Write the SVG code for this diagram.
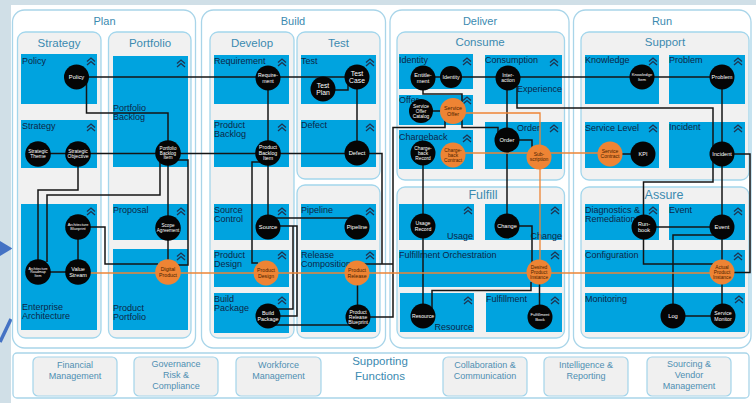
<svg xmlns="http://www.w3.org/2000/svg" xmlns:xlink="http://www.w3.org/1999/xlink" width="756" height="403" viewBox="0 0 756 403">
<style>
.ttl{font-family:"Liberation Sans",Arial,sans-serif;fill:#3b8ab0;text-anchor:middle}
.outer{fill:#fff;stroke:#a9d5e9;stroke-width:1.3}
.col{fill:#f1f1f1;stroke:#a3d6ec;stroke-width:1.3}
.box{fill:#00a3df}
.lbl{font-family:"Liberation Sans",Arial,sans-serif;font-size:9px;fill:#0c2747}
.r{text-anchor:end}
.ch{fill:none;stroke:#1e3350;stroke-width:1.3}
.nd text{font-family:"Liberation Sans",Arial,sans-serif;text-anchor:middle}
.k circle{fill:#050505}
.k text{fill:#fff}
.o circle{fill:#ee8434}
.o text{fill:#4a2200}
.w{fill:none;stroke:#151515;stroke-width:1.5}
.or{fill:none;stroke:#ee8434;stroke-width:1.3}
.sb{fill:#f0f0f0;stroke:#a3d4ea;stroke-width:1.2}
.st{font-family:"Liberation Sans",Arial,sans-serif;font-size:9px;fill:#4f8fb2;text-anchor:middle}
</style>
<defs>
<path id="chev" class="ch" d="M-4,0.5 L0,-3 L4,0.5 M-4,4 L0,0.5 L4,4"/>
</defs>
<!-- background -->
<rect x="0" y="0" width="756" height="403" fill="#d0dfe7"/>
<rect x="11" y="5" width="745" height="398" fill="#fff"/>
<polygon points="0,241 12.5,248.5 0,256" fill="#4472c4"/>
<line x1="0" y1="342" x2="11" y2="319" stroke="#4472c4" stroke-width="3.5"/>

<!-- outer containers -->
<rect class="outer" x="12.5" y="10" width="183" height="338" rx="12"/>
<rect class="outer" x="201.5" y="10" width="184" height="338" rx="12"/>
<rect class="outer" x="390" y="10" width="179" height="338" rx="12"/>
<rect class="outer" x="573.5" y="10" width="177.5" height="338" rx="12"/>
<text class="ttl" x="104.5" y="25" font-size="11">Plan</text>
<text class="ttl" x="293" y="24.5" font-size="11">Build</text>
<text class="ttl" x="480" y="24.5" font-size="11">Deliver</text>
<text class="ttl" x="662" y="24.5" font-size="11">Run</text>

<!-- column containers -->
<rect class="col" x="17.5" y="32" width="83.5" height="306" rx="8"/>
<rect class="col" x="108.5" y="32" width="82.5" height="306" rx="8"/>
<rect class="col" x="210" y="32" width="84" height="306" rx="8"/>
<rect class="col" x="297" y="32" width="83" height="147" rx="8"/>
<rect class="col" x="297" y="185" width="83" height="153" rx="8"/>
<rect class="col" x="397" y="32" width="167.5" height="148" rx="8"/>
<rect class="col" x="397" y="187" width="167.5" height="151" rx="8"/>
<rect class="col" x="581" y="32" width="168" height="148" rx="8"/>
<rect class="col" x="581" y="187" width="168" height="151" rx="8"/>
<text class="ttl" x="59" y="46.5" font-size="11.5">Strategy</text>
<text class="ttl" x="150" y="46.5" font-size="11.5">Portfolio</text>
<text class="ttl" x="252" y="46.5" font-size="11.5">Develop</text>
<text class="ttl" x="338.5" y="46.5" font-size="11.5">Test</text>
<text class="ttl" x="480" y="45.5" font-size="11.5">Consume</text>
<text class="ttl" x="483" y="199" font-size="12.5">Fulfill</text>
<text class="ttl" x="665" y="45.5" font-size="11.5">Support</text>
<text class="ttl" x="664" y="199" font-size="12.5">Assure</text>

<!-- blue functional boxes -->
<g id="boxes">
<rect class="box" x="21" y="54" width="76" height="50"/>
<rect class="box" x="21" y="120" width="76" height="48"/>
<rect class="box" x="21" y="204" width="76" height="126"/>
<rect class="box" x="113" y="56" width="75" height="111"/>
<rect class="box" x="113" y="204" width="75" height="36"/>
<rect class="box" x="113" y="249" width="75" height="81"/>
<rect class="box" x="214" y="55" width="75" height="49"/>
<rect class="box" x="214" y="120" width="75" height="47"/>
<rect class="box" x="301" y="55" width="75" height="49"/>
<rect class="box" x="301" y="120" width="75" height="47"/>
<rect class="box" x="214" y="204" width="75" height="36"/>
<rect class="box" x="214" y="250" width="75" height="37"/>
<rect class="box" x="214" y="293" width="75" height="40"/>
<rect class="box" x="301" y="204" width="75" height="36"/>
<rect class="box" x="301" y="250" width="75" height="82"/>
<rect class="box" x="399" y="54" width="74" height="35"/>
<rect class="box" x="399" y="95" width="74" height="30"/>
<rect class="box" x="399" y="130" width="74" height="39"/>
<rect class="box" x="485" y="55" width="77" height="49"/>
<rect class="box" x="485" y="122" width="77" height="47"/>
<rect class="box" x="399" y="204" width="75" height="36"/>
<rect class="box" x="485" y="204" width="77" height="36"/>
<rect class="box" x="399" y="250" width="163" height="37"/>
<rect class="box" x="400" y="293" width="74" height="39"/>
<rect class="box" x="486" y="293" width="76" height="39"/>
<rect class="box" x="585" y="55" width="74" height="49"/>
<rect class="box" x="669" y="55" width="76" height="49"/>
<rect class="box" x="585" y="122" width="74" height="46"/>
<rect class="box" x="669" y="122" width="76" height="46"/>
<rect class="box" x="585" y="204" width="74" height="36"/>
<rect class="box" x="669" y="204" width="76" height="36"/>
<rect class="box" x="585" y="250" width="160" height="37"/>
<rect class="box" x="585" y="293" width="160" height="39"/>
</g>

<!-- box labels -->
<g id="box-labels">
<text class="lbl" x="22" y="63.5">Policy</text>
<text class="lbl" x="22" y="128.5">Strategy</text>
<text class="lbl" x="22" y="309.5">Enterprise<tspan x="22" y="318.5">Architecture</tspan></text>
<text class="lbl" x="113" y="110.5">Portfolio<tspan x="113" y="119.5">Backlog</tspan></text>
<text class="lbl" x="113" y="212.5">Proposal</text>
<text class="lbl" x="113" y="310.5">Product<tspan x="113" y="320">Portfolio</tspan></text>
<text class="lbl" x="214" y="64">Requirement</text>
<text class="lbl" x="301" y="64">Test</text>
<text class="lbl" x="214" y="128">Product<tspan x="214" y="137">Backlog</tspan></text>
<text class="lbl" x="301" y="128">Defect</text>
<text class="lbl" x="214" y="212.5">Source<tspan x="214" y="221.5">Control</tspan></text>
<text class="lbl" x="301" y="212.5">Pipeline</text>
<text class="lbl" x="214" y="258">Product<tspan x="214" y="267">Design</tspan></text>
<text class="lbl" x="301" y="258">Release<tspan x="301" y="267">Composition</tspan></text>
<text class="lbl" x="214" y="301.5">Build<tspan x="214" y="310.5">Package</tspan></text>
<text class="lbl" x="399" y="63">Identity</text>
<text class="lbl" x="485" y="63">Consumption</text>
<text class="lbl r" x="562" y="91.5">Experience</text>
<text class="lbl" x="399" y="103">Offer</text>
<text class="lbl" x="399" y="139.5">Chargeback</text>
<text class="lbl" x="517" y="131">Order</text>
<text class="lbl r" x="473" y="238.5">Usage</text>
<text class="lbl r" x="562" y="238.5">Change</text>
<text class="lbl" x="399" y="258">Fulfillment Orchestration</text>
<text class="lbl r" x="473" y="330">Resource</text>
<text class="lbl" x="486" y="301.5">Fulfillment</text>
<text class="lbl" x="585" y="63">Knowledge</text>
<text class="lbl" x="669" y="63">Problem</text>
<text class="lbl" x="585" y="131">Service Level</text>
<text class="lbl" x="669" y="130">Incident</text>
<text class="lbl" x="585" y="213">Diagnostics &amp;<tspan x="585" y="222">Remediation</tspan></text>
<text class="lbl" x="669" y="212.5">Event</text>
<text class="lbl" x="585" y="258">Configuration</text>
<text class="lbl" x="585" y="301.5">Monitoring</text>
</g>

<!-- chevrons -->
<g id="chevrons">
<use href="#chev" x="91" y="61"/><use href="#chev" x="91" y="127"/><use href="#chev" x="91" y="211"/>
<use href="#chev" x="181" y="63"/><use href="#chev" x="181" y="211"/><use href="#chev" x="181" y="256"/>
<use href="#chev" x="282" y="62"/><use href="#chev" x="370" y="62"/><use href="#chev" x="282" y="127"/>
<use href="#chev" x="370" y="127"/><use href="#chev" x="282" y="211"/><use href="#chev" x="370" y="211"/>
<use href="#chev" x="282" y="255"/><use href="#chev" x="370" y="255"/><use href="#chev" x="282" y="300"/>
<use href="#chev" x="467" y="61"/><use href="#chev" x="554" y="62"/><use href="#chev" x="467" y="100"/>
<use href="#chev" x="467" y="138"/><use href="#chev" x="554" y="128"/><use href="#chev" x="468" y="210"/>
<use href="#chev" x="555" y="210"/><use href="#chev" x="555" y="255"/><use href="#chev" x="468" y="300"/>
<use href="#chev" x="555" y="300"/><use href="#chev" x="653" y="61"/><use href="#chev" x="738" y="61"/>
<use href="#chev" x="653" y="128"/><use href="#chev" x="738" y="128"/><use href="#chev" x="653" y="210"/>
<use href="#chev" x="738" y="211"/><use href="#chev" x="738" y="256"/><use href="#chev" x="739" y="299"/>
</g>

<!-- connectors -->
<g id="connectors">
<path class="w" d="M76.5,77 H357"/>
<path class="w" d="M334,90 H348 V82"/>
<path class="w" d="M86.5,80 V113 H168 V153"/>
<path class="w" d="M38,153.5 H382 V264"/>
<path class="w" d="M360,264 H393"/>
<path class="w" d="M268,78 V227"/>
<path class="w" d="M357,77 V153"/>
<path class="w" d="M262,162 H252 V263 H258"/>
<path class="w" d="M272,218 H352"/>
<path class="w" d="M275,226 H297 V316 H275"/>
<path class="w" d="M293,226 V309 H275"/>
<path class="w" d="M270,325 H352"/>
<path class="w" d="M357.5,273 V317"/>
<path class="w" d="M358,317 H393 V127.5 H445 V118"/>
<path class="w" d="M462,119 V127.5 H498 V134"/>
<path class="w" d="M423,78 V94 H462 V102"/>
<path class="w" d="M423,77 H722"/>
<path class="w" d="M421,111 H453"/>
<path class="w" d="M507,78 V226"/>
<path class="w" d="M517,86 V108 H713 V182 H643.5 V227"/>
<path class="w" d="M507,140 H532 V148"/>
<path class="w" d="M507,226 H532 V263"/>
<path class="w" d="M531,282 V290.5 H432 V310"/>
<path class="w" d="M539.5,272 V317"/>
<path class="w" d="M423,153 V316"/>
<path class="w" d="M722,77 V316"/>
<path class="w" d="M722,154 H750 V272.5 H733"/>
<path class="w" d="M644,227 H722"/>
<path class="w" d="M643.5,238 V264 H713"/>
<path class="w" d="M716,235 H673 V316"/>
<path class="w" d="M673,316 H723"/>
<path class="w" d="M610,154 H643"/>
<path class="w" d="M78,154 V190 H38 V272"/>
<path class="w" d="M160,160 V195 H47 V262"/>
<path class="w" d="M176,160 H188 V265 H178"/>
<path class="w" d="M168,153 V272"/>
<path class="w" d="M78,227 H105 V264 H158"/>
<path class="w" d="M78,227 V272"/>
<path class="w" d="M38,272 H78"/>
<path class="or" d="M78,273 H722"/>
<path class="or" d="M453,113 H540 V272"/>
<path class="or" d="M453,153 H610"/>
</g>

<!-- nodes -->
<g id="n-policy" class="nd k" transform="translate(76.5,77)"><circle r="12.5"/><text font-size="5.8"><tspan x="0" y="2">Policy</tspan></text></g>
<g id="n-strategic-theme" class="nd k" transform="translate(38,154)"><circle r="12.8"/><text font-size="5"><tspan x="0" y="-0.9">Strategic</tspan><tspan x="0" y="4.4">Theme</tspan></text></g>
<g id="n-strategic-objective" class="nd k" transform="translate(78,154)"><circle r="12.8"/><text font-size="5"><tspan x="0" y="-0.9">Strategic</tspan><tspan x="0" y="4.4">Objective</tspan></text></g>
<g id="n-portfolio-backlog-item" class="nd k" transform="translate(168,153)"><circle r="12.8"/><text font-size="4.6"><tspan x="0" y="-3.2">Portfolio</tspan><tspan x="0" y="1.6">Backlog</tspan><tspan x="0" y="6.4">Item</tspan></text></g>
<g id="n-architecture-blueprint" class="nd k" transform="translate(78,227)"><circle r="12.8"/><text font-size="3.9"><tspan x="0" y="-0.7">Architecture</tspan><tspan x="0" y="3.4">Blueprint</tspan></text></g>
<g id="n-scope-agreement" class="nd k" transform="translate(168,228)"><circle r="12.8"/><text font-size="4.6"><tspan x="0" y="-0.8">Scope</tspan><tspan x="0" y="4">Agreement</tspan></text></g>
<g id="n-architecture-roadmap-item" class="nd k" transform="translate(38,272)"><circle r="12.8"/><text font-size="3.6"><tspan x="0" y="-2.5">Architecture</tspan><tspan x="0" y="1.3">Roadmap</tspan><tspan x="0" y="5">Item</tspan></text></g>
<g id="n-value-stream" class="nd k" transform="translate(78,272)"><circle r="12.8"/><text font-size="5.5"><tspan x="0" y="-1">Value</tspan><tspan x="0" y="4.8">Stream</tspan></text></g>
<g id="n-digital-product" class="nd o" transform="translate(168,272)"><circle r="12.8"/><text font-size="5.2"><tspan x="0" y="-0.9">Digital</tspan><tspan x="0" y="4.6">Product</tspan></text></g>

<g id="n-requirement" class="nd k" transform="translate(268,78)"><circle r="12.5"/><text font-size="5.2"><tspan x="0" y="-0.9">Require-</tspan><tspan x="0" y="4.6">ment</tspan></text></g>
<g id="n-test-case" class="nd k" transform="translate(357,77)"><circle r="12.5"/><text font-size="6.8"><tspan x="0" y="-1.2">Test</tspan><tspan x="0" y="6">Case</tspan></text></g>
<g id="n-test-plan" class="nd k" transform="translate(323,89)"><circle r="12.5"/><text font-size="6.8"><tspan x="0" y="-1.2">Test</tspan><tspan x="0" y="6">Plan</tspan></text></g>
<g id="n-product-backlog-item" class="nd k" transform="translate(268,153)"><circle r="12.8"/><text font-size="5.2"><tspan x="0" y="-3.6">Product</tspan><tspan x="0" y="1.8">Backlog</tspan><tspan x="0" y="7.3">Item</tspan></text></g>
<g id="n-defect" class="nd k" transform="translate(357,153)"><circle r="12.5"/><text font-size="5.8"><tspan x="0" y="2">Defect</tspan></text></g>
<g id="n-source" class="nd k" transform="translate(268,227)"><circle r="12.5"/><text font-size="5.8"><tspan x="0" y="2">Source</tspan></text></g>
<g id="n-pipeline" class="nd k" transform="translate(357,227)"><circle r="12.5"/><text font-size="5.8"><tspan x="0" y="2">Pipeline</tspan></text></g>
<g id="n-product-design" class="nd o" transform="translate(266,273)"><circle r="12.5"/><text font-size="5.2"><tspan x="0" y="-0.9">Product</tspan><tspan x="0" y="4.6">Design</tspan></text></g>
<g id="n-product-release" class="nd o" transform="translate(357,273)"><circle r="12.5"/><text font-size="5.2"><tspan x="0" y="-0.9">Product</tspan><tspan x="0" y="4.6">Release</tspan></text></g>
<g id="n-build-package" class="nd k" transform="translate(268,316)"><circle r="12.5"/><text font-size="5.4"><tspan x="0" y="-0.95">Build</tspan><tspan x="0" y="4.7">Package</tspan></text></g>
<g id="n-product-release-blueprint" class="nd k" transform="translate(358,317)"><circle r="12.5"/><text font-size="5"><tspan x="0" y="-3.5">Product</tspan><tspan x="0" y="1.75">Release</tspan><tspan x="0" y="7">Blueprint</tspan></text></g>

<g id="n-entitlement" class="nd k" transform="translate(423,78)"><circle r="12.5"/><text font-size="5.6"><tspan x="0" y="-1">Entitle-</tspan><tspan x="0" y="4.9">ment</tspan></text></g>
<g id="n-identity" class="nd k" transform="translate(451,77)"><circle r="11"/><text font-size="5.3"><tspan x="0" y="1.9">Identity</tspan></text></g>
<g id="n-interaction" class="nd k" transform="translate(508,78)"><circle r="12.5"/><text font-size="5"><tspan x="0" y="-0.9">Inter-</tspan><tspan x="0" y="4.4">action</tspan></text></g>
<g id="n-service-offer-catalog" class="nd k" transform="translate(421,111)"><circle r="12"/><text font-size="4.8"><tspan x="0" y="-3.4">Service</tspan><tspan x="0" y="1.7">Offer</tspan><tspan x="0" y="6.7">Catalog</tspan></text></g>
<g id="n-service-offer" class="nd o" transform="translate(453,111)"><circle r="13"/><text font-size="5.4"><tspan x="0" y="-0.95">Service</tspan><tspan x="0" y="4.7">Offer</tspan></text></g>
<g id="n-chargeback-record" class="nd k" transform="translate(423,153)"><circle r="12.5"/><text font-size="4.8"><tspan x="0" y="-3.4">Charge-</tspan><tspan x="0" y="1.7">back</tspan><tspan x="0" y="6.7">Record</tspan></text></g>
<g id="n-chargeback-contract" class="nd o" transform="translate(453,155)"><circle r="12.5"/><text font-size="4.8"><tspan x="0" y="-3.4">Charge-</tspan><tspan x="0" y="1.7">back</tspan><tspan x="0" y="6.7">Contract</tspan></text></g>
<g id="n-order" class="nd k" transform="translate(507,140)"><circle r="12.5"/><text font-size="5.8"><tspan x="0" y="2">Order</tspan></text></g>
<g id="n-subscription" class="nd o" transform="translate(539,157)"><circle r="12.5"/><text font-size="5"><tspan x="0" y="-0.9">Sub-</tspan><tspan x="0" y="4.4">scription</tspan></text></g>
<g id="n-usage-record" class="nd k" transform="translate(423,226)"><circle r="12.5"/><text font-size="5.2"><tspan x="0" y="-0.9">Usage</tspan><tspan x="0" y="4.6">Record</tspan></text></g>
<g id="n-change" class="nd k" transform="translate(507,226)"><circle r="12.5"/><text font-size="5.6"><tspan x="0" y="2">Change</tspan></text></g>
<g id="n-desired-product-instance" class="nd o" transform="translate(539,272)"><circle r="12.5"/><text font-size="4.8"><tspan x="0" y="-3.4">Desired</tspan><tspan x="0" y="1.7">Product</tspan><tspan x="0" y="6.7">Instance</tspan></text></g>
<g id="n-resource" class="nd k" transform="translate(423,316)"><circle r="12.5"/><text font-size="5.2"><tspan x="0" y="1.8">Resource</tspan></text></g>
<g id="n-fulfillment-book" class="nd k" transform="translate(540,317)"><circle r="12.5"/><text font-size="4.2"><tspan x="0" y="-0.75">Fulfillment</tspan><tspan x="0" y="3.7">Book</tspan></text></g>

<g id="n-knowledge-item" class="nd k" transform="translate(642,77)"><circle r="12.5"/><text font-size="4.2"><tspan x="0" y="-0.75">Knowledge</tspan><tspan x="0" y="3.7">Item</tspan></text></g>
<g id="n-problem" class="nd k" transform="translate(722,77)"><circle r="12.5"/><text font-size="5.6"><tspan x="0" y="2">Problem</tspan></text></g>
<g id="n-service-contract" class="nd o" transform="translate(610,154)"><circle r="12.5"/><text font-size="5"><tspan x="0" y="-0.9">Service</tspan><tspan x="0" y="4.4">Contract</tspan></text></g>
<g id="n-kpi" class="nd k" transform="translate(643,154)"><circle r="12.5"/><text font-size="5.6"><tspan x="0" y="2">KPI</tspan></text></g>
<g id="n-incident" class="nd k" transform="translate(722,154)"><circle r="12.5"/><text font-size="5.6"><tspan x="0" y="2">Incident</tspan></text></g>
<g id="n-runbook" class="nd k" transform="translate(644,227)"><circle r="12.5"/><text font-size="5.6"><tspan x="0" y="-1">Run-</tspan><tspan x="0" y="4.9">book</tspan></text></g>
<g id="n-event" class="nd k" transform="translate(722,227)"><circle r="12.5"/><text font-size="5.8"><tspan x="0" y="2">Event</tspan></text></g>
<g id="n-actual-product-instance" class="nd o" transform="translate(722,272)"><circle r="12.5"/><text font-size="4.8"><tspan x="0" y="-3.4">Actual</tspan><tspan x="0" y="1.7">Product</tspan><tspan x="0" y="6.7">Instance</tspan></text></g>
<g id="n-log" class="nd k" transform="translate(673,316)"><circle r="12.5"/><text font-size="5.8"><tspan x="0" y="2">Log</tspan></text></g>
<g id="n-service-monitor" class="nd k" transform="translate(723,316)"><circle r="12.5"/><text font-size="5.2"><tspan x="0" y="-0.9">Service</tspan><tspan x="0" y="4.6">Monitor</tspan></text></g>

<!-- supporting functions -->
<g id="supporting">
<rect class="outer" x="13" y="353" width="736" height="45" rx="4"/>
<text class="ttl" x="380" y="365" font-size="11.5">Supporting</text>
<text class="ttl" x="380" y="380" font-size="11.5">Functions</text>
<g id="s-financial"><rect class="sb" x="33" y="357" width="84" height="39" rx="5"/><text class="st" x="75" y="367.5">Financial<tspan x="75" y="378.5">Management</tspan></text></g>
<g id="s-governance"><rect class="sb" x="134" y="357" width="84" height="39" rx="5"/><text class="st" x="176" y="367">Governance<tspan x="176" y="378">Risk &amp;</tspan><tspan x="176" y="389">Compliance</tspan></text></g>
<g id="s-workforce"><rect class="sb" x="236" y="357" width="85" height="39" rx="5"/><text class="st" x="278.5" y="367.5">Workforce<tspan x="278.5" y="378.5">Management</tspan></text></g>
<g id="s-collaboration"><rect class="sb" x="443" y="357" width="84" height="39" rx="5"/><text class="st" x="485" y="367.5">Collaboration &amp;<tspan x="485" y="378.5">Communication</tspan></text></g>
<g id="s-intelligence"><rect class="sb" x="544" y="357" width="84" height="39" rx="5"/><text class="st" x="586" y="367.5">Intelligence &amp;<tspan x="586" y="378.5">Reporting</tspan></text></g>
<g id="s-sourcing"><rect class="sb" x="647" y="357" width="84" height="39" rx="5"/><text class="st" x="689" y="367">Sourcing &amp;<tspan x="689" y="378">Vendor</tspan><tspan x="689" y="389">Management</tspan></text></g>
</g>
</svg>
